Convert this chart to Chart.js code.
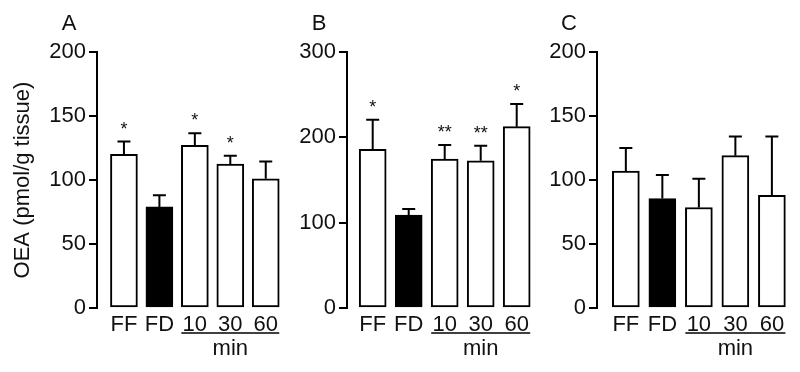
<!DOCTYPE html>
<html>
<head>
<meta charset="utf-8">
<script src="https://cdn.jsdelivr.net/npm/chart.js@4.4.1/dist/chart.umd.min.js"></script>
<style>
    body { margin: 0; background: #fff; }
    #wrap { position: relative; width: 800px; height: 372px; overflow: hidden; }
    canvas { position: absolute; top: 0; }
</style>
</head>
<body>
<div id="wrap">
    <canvas id="chartA" width="290" height="372" style="left:0px"></canvas>
    <canvas id="chartB" width="290" height="372" style="left:250px"></canvas>
    <canvas id="chartC" width="300" height="372" style="left:500px"></canvas>
</div>

<script>
    // groups on the x axis
    var groups = ['FF', 'FD', '10', '30', '60'];

    // panel A
    var oeaA = [120, 79, 127, 112.5, 101];
    var semA = [10, 9, 9.5, 6.5, 13.5];
    var starsA = ['*', '', '*', '*', ''];
    var ticksA = [0, 50, 100, 150, 200];

    // panel B
    var oeaB = [186, 109, 174.5, 172.5, 212.5];
    var semB = [34.5, 7, 16.5, 17.5, 26.5];
    var starsB = ['*', '', '**', '**', '*'];
    var ticksB = [0, 100, 200, 300];

    // panel C
    var oeaC = [107, 85.5, 78.5, 119, 88];
    var semC = [18, 18.5, 22.5, 15, 46];
    var starsC = ['', '', '', '', ''];
    var ticksC = [0, 50, 100, 150, 200];

    var FONT = '"Liberation Sans", Arial, Helvetica, sans-serif';
    var barColors = ['#ffffff', '#000000', '#ffffff', '#ffffff', '#ffffff'];

    // error bars (upper only), stars, panel letter and the "min" bracket
    var extrasPlugin = {
        id: 'extras',
        afterDatasetsDraw: function (chart) {
            var ctx = chart.ctx;
            var p = chart.options.plugins.extras;
            var meta = chart.getDatasetMeta(0);
            var yScale = chart.scales.y;
            var area = chart.chartArea;
            ctx.save();
            ctx.strokeStyle = '#000';
            ctx.lineWidth = 2;
            ctx.fillStyle = '#111';
            meta.data.forEach(function (bar, i) {
                var v = p.values[i];
                var top = yScale.getPixelForValue(v + p.errors[i]);
                var base = yScale.getPixelForValue(v);
                ctx.beginPath();
                ctx.moveTo(bar.x, base);
                ctx.lineTo(bar.x, top);
                ctx.moveTo(bar.x - 6.5, top);
                ctx.lineTo(bar.x + 6.5, top);
                ctx.stroke();
                if (p.stars[i]) {
                    ctx.font = '18px ' + FONT;
                    ctx.textAlign = 'center';
                    ctx.textBaseline = 'alphabetic';
                    ctx.fillText(p.stars[i], bar.x, top - 7);
                }
            });

            // underline under 10 30 60 and "min"
            var b2 = meta.data[2], b4 = meta.data[4];
            var x1 = b2.x - b2.width / 2, x2 = b4.x + b4.width / 2;
            ctx.lineWidth = 1.5;
            ctx.beginPath();
            ctx.moveTo(x1, area.bottom + 25);
            ctx.lineTo(x2, area.bottom + 25);
            ctx.stroke();
            ctx.font = '22px ' + FONT;
            ctx.textAlign = 'center';
            ctx.textBaseline = 'middle';
            ctx.fillText('min', meta.data[3].x, area.bottom + 41);

            // panel letter
            ctx.fillText(p.letter, area.left - 28, 24);
            ctx.restore();
        }
    };

    function makePanel(id, values, errors, stars, ticks, letter, xMin, xMax, withTitle) {
        var yMax = ticks[ticks.length - 1];
        return new Chart(document.getElementById(id), {
            type: 'bar',
            data: {
                datasets: [{
                    data: values.map(function (v, i) { return { x: i, y: v }; }),
                    backgroundColor: barColors,
                    borderColor: '#000',
                    borderWidth: 2,
                    borderSkipped: false,
                    barThickness: 27
                }]
            },
            options: {
                responsive: false,
                devicePixelRatio: 1,
                animation: false,
                layout: { padding: { top: 52, right: 0, bottom: 0, left: 0 } },
                plugins: {
                    legend: { display: false },
                    tooltip: { enabled: false },
                    extras: { values: values, errors: errors, stars: stars, letter: letter }
                },
                scales: {
                    x: {
                        type: 'linear',
                        offset: false,
                        min: xMin,
                        max: xMax,
                        grid: { display: false, offset: false },
                        border: { display: false },
                        ticks: {
                            autoSkip: false,
                            maxRotation: 0,
                            padding: -4,
                            color: '#111',
                            font: { family: FONT, size: 22 },
                            callback: function (v) { return groups[v]; }
                        },
                        afterBuildTicks: function (s) {
                            s.ticks = groups.map(function (g, i) { return { value: i }; });
                        },
                        afterFit: function (s) { s.height = 64; }
                    },
                    y: {
                        min: 0,
                        max: yMax,
                        grid: {
                            drawOnChartArea: false,
                            color: '#000',
                            lineWidth: 2,
                            tickLength: 8
                        },
                        border: { color: '#000', width: 2 },
                        ticks: {
                            stepSize: ticks[1] - ticks[0],
                            padding: 3,
                            color: '#111',
                            font: { family: FONT, size: 22 }
                        },
                        title: {
                            display: withTitle,
                            text: 'OEA (pmol/g tissue)',
                            color: '#111',
                            font: { family: FONT, size: 22 },
                            padding: { top: 10, bottom: 0 }
                        },
                        afterFit: function (s) { s.width = 97; }
                    }
                }
            },
            plugins: [extrasPlugin]
        });
    }

    makePanel('chartA', oeaA, semA, starsA, ticksA, 'A', -0.76, 4.684, true);
    makePanel('chartB', oeaB, semB, starsB, ticksB, 'B', -0.714, 4.647, false);
    makePanel('chartC', oeaC, semC, starsC, ticksC, 'C', -0.79, 4.77, false);
</script>
</body>
</html>
